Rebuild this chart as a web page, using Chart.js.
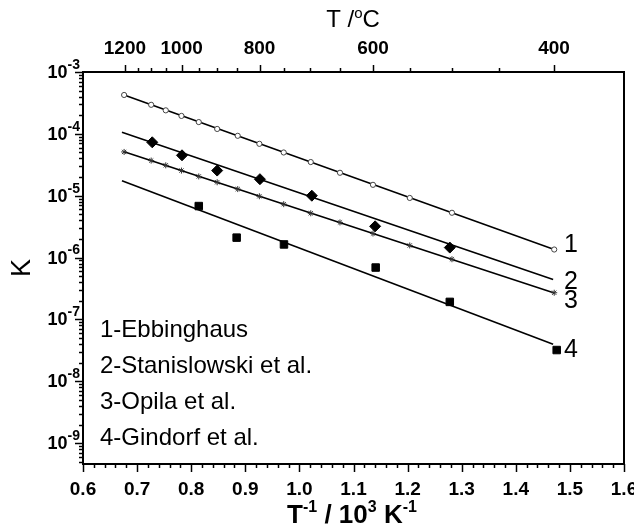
<!DOCTYPE html>
<html>
<head>
<meta charset="utf-8">
<script src="https://cdn.jsdelivr.net/npm/chart.js@4.4.1/dist/chart.umd.min.js"></script>
<style>
  html, body { margin: 0; padding: 0; background: #fff; }
  #wrap { width: 634px; height: 527px; }
</style>
</head>
<body>
<div id="wrap"><canvas id="c" width="634" height="527"></canvas></div>
<script>
// ---------------- data ----------------
// x = T^-1 / 10^3 K^-1 (bottom axis), y = K
const ebbX = [0.676, 0.726, 0.753, 0.782, 0.814, 0.848, 0.886, 0.926, 0.971, 1.021, 1.075, 1.136, 1.204, 1.282, 1.471];
const ebbK = [4.25e-4, 2.95e-4, 2.4e-4, 1.95e-4, 1.55e-4, 1.2e-4, 9.3e-5, 6.9e-5, 5.0e-5, 3.5e-5, 2.35e-5, 1.5e-5, 9.2e-6, 5.3e-6, 1.35e-6];

const opilaX = [0.676, 0.726, 0.753, 0.782, 0.814, 0.848, 0.886, 0.926, 0.971, 1.021, 1.075, 1.136, 1.204, 1.282, 1.471];
const opilaK = [5.1e-5, 3.7e-5, 3.1e-5, 2.55e-5, 2.05e-5, 1.65e-5, 1.28e-5, 9.8e-6, 7.3e-6, 5.2e-6, 3.7e-6, 2.45e-6, 1.57e-6, 9.4e-7, 2.7e-7];

const stanX = [0.728, 0.783, 0.848, 0.927, 1.023, 1.140, 1.278];
const stanK = [7.3e-5, 4.5e-5, 2.55e-5, 1.85e-5, 1.0e-5, 3.2e-6, 1.45e-6];

const gindX = [0.814, 0.884, 0.9715, 1.141, 1.278, 1.4756];
const gindK = [6.8e-6, 2.1e-6, 1.63e-6, 6.9e-7, 1.92e-7, 3.2e-8];

// fitted straight lines (end points)
const fitEbbX = [0.676, 1.471];   const fitEbbK = [4.25e-4, 1.35e-6];
const fitStanX = [0.672, 1.469];  const fitStanK = [1.06e-4, 4.43e-7];
const fitOpilaX = [0.676, 1.471]; const fitOpilaK = [5.13e-5, 2.68e-7];
const fitGindX = [0.672, 1.469];  const fitGindK = [1.74e-5, 3.97e-8];

// tick labels
const xTicks = [0.6, 0.7, 0.8, 0.9, 1.0, 1.1, 1.2, 1.3, 1.4, 1.5, 1.6];
const yExponents = [-9, -8, -7, -6, -5, -4, -3];
const topTemps = [1200, 1000, 800, 600, 400];
const topMinorTemps = [1150, 1100, 1050, 950, 900, 850, 750, 700, 650, 550, 500, 450];

// legend / curve labels
const legendTexts = ['1-Ebbinghaus', '2-Stanislowski et al.', '3-Opila et al.', '4-Gindorf et al.'];
const curveNames = ['1', '2', '3', '4'];
const curveLabelK = [1.6e-6, 4.0e-7, 2.0e-7, 3.2e-8];

// ------------------------------------------------------------
const pts = (xs, ys) => xs.map((x, i) => ({ x: x, y: ys[i] }));
const FONT = "'Liberation Sans', Arial, Helvetica, sans-serif";
Chart.defaults.font.family = FONT;
Chart.defaults.color = '#000';

const lineDs = (xs, ys) => ({
  type: 'line', data: pts(xs, ys), borderColor: '#000', borderWidth: 1.6,
  pointRadius: 0, fill: false, tension: 0, order: 2
});

function drawParts(ctx, parts, x, y, align) {
  let total = 0;
  parts.forEach(p => { ctx.font = p.font; p.w = ctx.measureText(p.text).width; total += p.w; });
  let cx = align === 'right' ? x - total : (align === 'center' ? x - total / 2 : x);
  parts.forEach(p => { ctx.font = p.font; ctx.fillText(p.text, cx, y + (p.dy || 0)); cx += p.w; });
}

const decorations = {
  id: 'decorations',
  afterDraw(chart) {
    const ctx = chart.ctx;
    const a = chart.chartArea;
    const xs = chart.scales.x, x2 = chart.scales.x2, ys = chart.scales.y;
    ctx.save();
    ctx.strokeStyle = '#000';
    ctx.fillStyle = '#000';
    // frame
    ctx.lineWidth = 2;
    ctx.strokeRect(a.left, a.top, a.right - a.left, a.bottom - a.top);

    ctx.lineWidth = 1.5;
    const tick = (x1, y1, x2_, y2) => { ctx.beginPath(); ctx.moveTo(x1, y1); ctx.lineTo(x2_, y2); ctx.stroke(); };
    // bottom ticks
    for (let i = 0; i <= 50; i++) {
      const v = 0.6 + i * 0.02;
      const px = Math.round(xs.getPixelForValue(v)) + 0.5;
      tick(px, a.bottom, px, a.bottom + (i % 5 === 0 ? 8 : 4));
    }
    // top ticks
    topTemps.forEach(t => {
      const px = Math.round(x2.getPixelForValue(1000 / (t + 273.15))) + 0.5;
      tick(px, a.top, px, a.top - 7);
    });
    topMinorTemps.forEach(t => {
      const px = Math.round(x2.getPixelForValue(1000 / (t + 273.15))) + 0.5;
      tick(px, a.top, px, a.top - 4);
    });
    // left ticks
    for (let e = -10; e <= -3; e++) {
      for (let m = 1; m <= 9; m++) {
        const v = m * Math.pow(10, e);
        if (v < ys.min * 0.999 || v > ys.max * 1.001) continue;
        const py = Math.round(ys.getPixelForValue(v)) + 0.5;
        tick(a.left, py, a.left - (m === 1 ? 8 : 4), py);
        if (m === 1 && e === -3) break;
      }
    }
    // y tick labels 10^n
    ctx.textBaseline = 'middle';
    yExponents.forEach(e => {
      const py = ys.getPixelForValue(Math.pow(10, e));
      drawParts(ctx, [
        { text: '10', font: 'bold 18px ' + FONT, dy: 1 },
        { text: String(e), font: 'bold 14px ' + FONT, dy: -7 }
      ], a.left - 3, py, 'right');
    });

    // axis titles
    ctx.textBaseline = 'alphabetic';
    drawParts(ctx, [
      { text: 'T', font: 'bold 26px ' + FONT },
      { text: '-1', font: 'bold 16px ' + FONT, dy: -11 },
      { text: ' / 10', font: 'bold 26px ' + FONT },
      { text: '3', font: 'bold 16px ' + FONT, dy: -11 },
      { text: ' K', font: 'bold 26px ' + FONT },
      { text: '-1', font: 'bold 16px ' + FONT, dy: -11 }
    ], 352, 523, 'center');

    drawParts(ctx, [
      { text: 'T /', font: '24px ' + FONT },
      { text: 'o', font: '15px ' + FONT, dy: -9 },
      { text: 'C', font: '24px ' + FONT }
    ], 353, 27, 'center');

    ctx.save();
    ctx.translate(30, (a.top + a.bottom) / 2);
    ctx.rotate(-Math.PI / 2);
    ctx.textAlign = 'center';
    ctx.textBaseline = 'alphabetic';
    ctx.font = '27px ' + FONT;
    ctx.fillText('K', 0, 0);
    ctx.restore();

    // curve number labels
    ctx.textAlign = 'left';
    ctx.textBaseline = 'middle';
    ctx.font = '25px ' + FONT;
    curveNames.forEach((n, i) => {
      ctx.fillText(n, xs.getPixelForValue(1.489), ys.getPixelForValue(curveLabelK[i]));
    });

    // legend text
    ctx.font = '24px ' + FONT;
    legendTexts.forEach((t, i) => {
      ctx.fillText(t, a.left + 17, a.top + 258 + i * 36);
    });
    ctx.restore();
  }
};

new Chart(document.getElementById('c'), {
  type: 'scatter',
  data: {
    datasets: [
      lineDs(fitEbbX, fitEbbK),
      lineDs(fitStanX, fitStanK),
      lineDs(fitOpilaX, fitOpilaK),
      lineDs(fitGindX, fitGindK),
      { label: 'Ebbinghaus', data: pts(ebbX, ebbK), pointStyle: 'circle', pointRadius: 2.6,
        backgroundColor: '#fff', borderColor: '#444', borderWidth: 1, order: 1 },
      { label: 'Stanislowski et al.', data: pts(stanX, stanK), pointStyle: 'rectRot', pointRadius: 5.5,
        backgroundColor: '#000', borderColor: '#000', borderWidth: 1, order: 1 },
      { label: 'Opila et al.', data: pts(opilaX, opilaK), pointStyle: 'star', pointRadius: 3,
        backgroundColor: '#000', borderColor: '#333', borderWidth: 1, order: 1 },
      { label: 'Gindorf et al.', data: pts(gindX, gindK), pointStyle: 'rect', pointRadius: 5.3,
        backgroundColor: '#000', borderColor: '#000', borderWidth: 1, order: 1 }
    ]
  },
  options: {
    responsive: false,
    animation: false,
    layout: { padding: { left: 0, right: 10, top: 0, bottom: 0 } },
    plugins: { legend: { display: false }, tooltip: { enabled: false } },
    scales: {
      x: {
        type: 'linear', position: 'bottom', min: 0.6, max: 1.6,
        grid: { display: false }, border: { display: false },
        afterBuildTicks: s => { s.ticks = xTicks.map(v => ({ value: v })); },
        ticks: { padding: 6, autoSkip: false, maxRotation: 0, color: '#000',
                 font: { size: 19, weight: 'bold' }, callback: v => Number(v).toFixed(1) },
        afterFit: s => { s.height = 63; s.paddingLeft = 0; s.paddingRight = 0; }
      },
      x2: {
        type: 'linear', position: 'top', min: 0.6, max: 1.617,
        grid: { display: false }, border: { display: false },
        afterBuildTicks: s => { s.ticks = topTemps.map(t => ({ value: 1000 / (t + 273.15) })); },
        ticks: { padding: 4, autoSkip: false, maxRotation: 0, color: '#000',
                 font: { size: 19, weight: 'bold' }, callback: v => String(Math.round(1000 / v - 273.15)) },
        afterFit: s => { s.height = 72; s.paddingLeft = 0; s.paddingRight = 0; }
      },
      y: {
        type: 'logarithmic', position: 'left', min: 4.6e-10, max: 1e-3,
        grid: { display: false }, border: { display: false },
        ticks: { display: false },
        afterFit: s => { s.width = 83; s.paddingTop = 0; s.paddingBottom = 0; }
      }
    }
  },
  plugins: [decorations]
});
</script>
</body>
</html>
